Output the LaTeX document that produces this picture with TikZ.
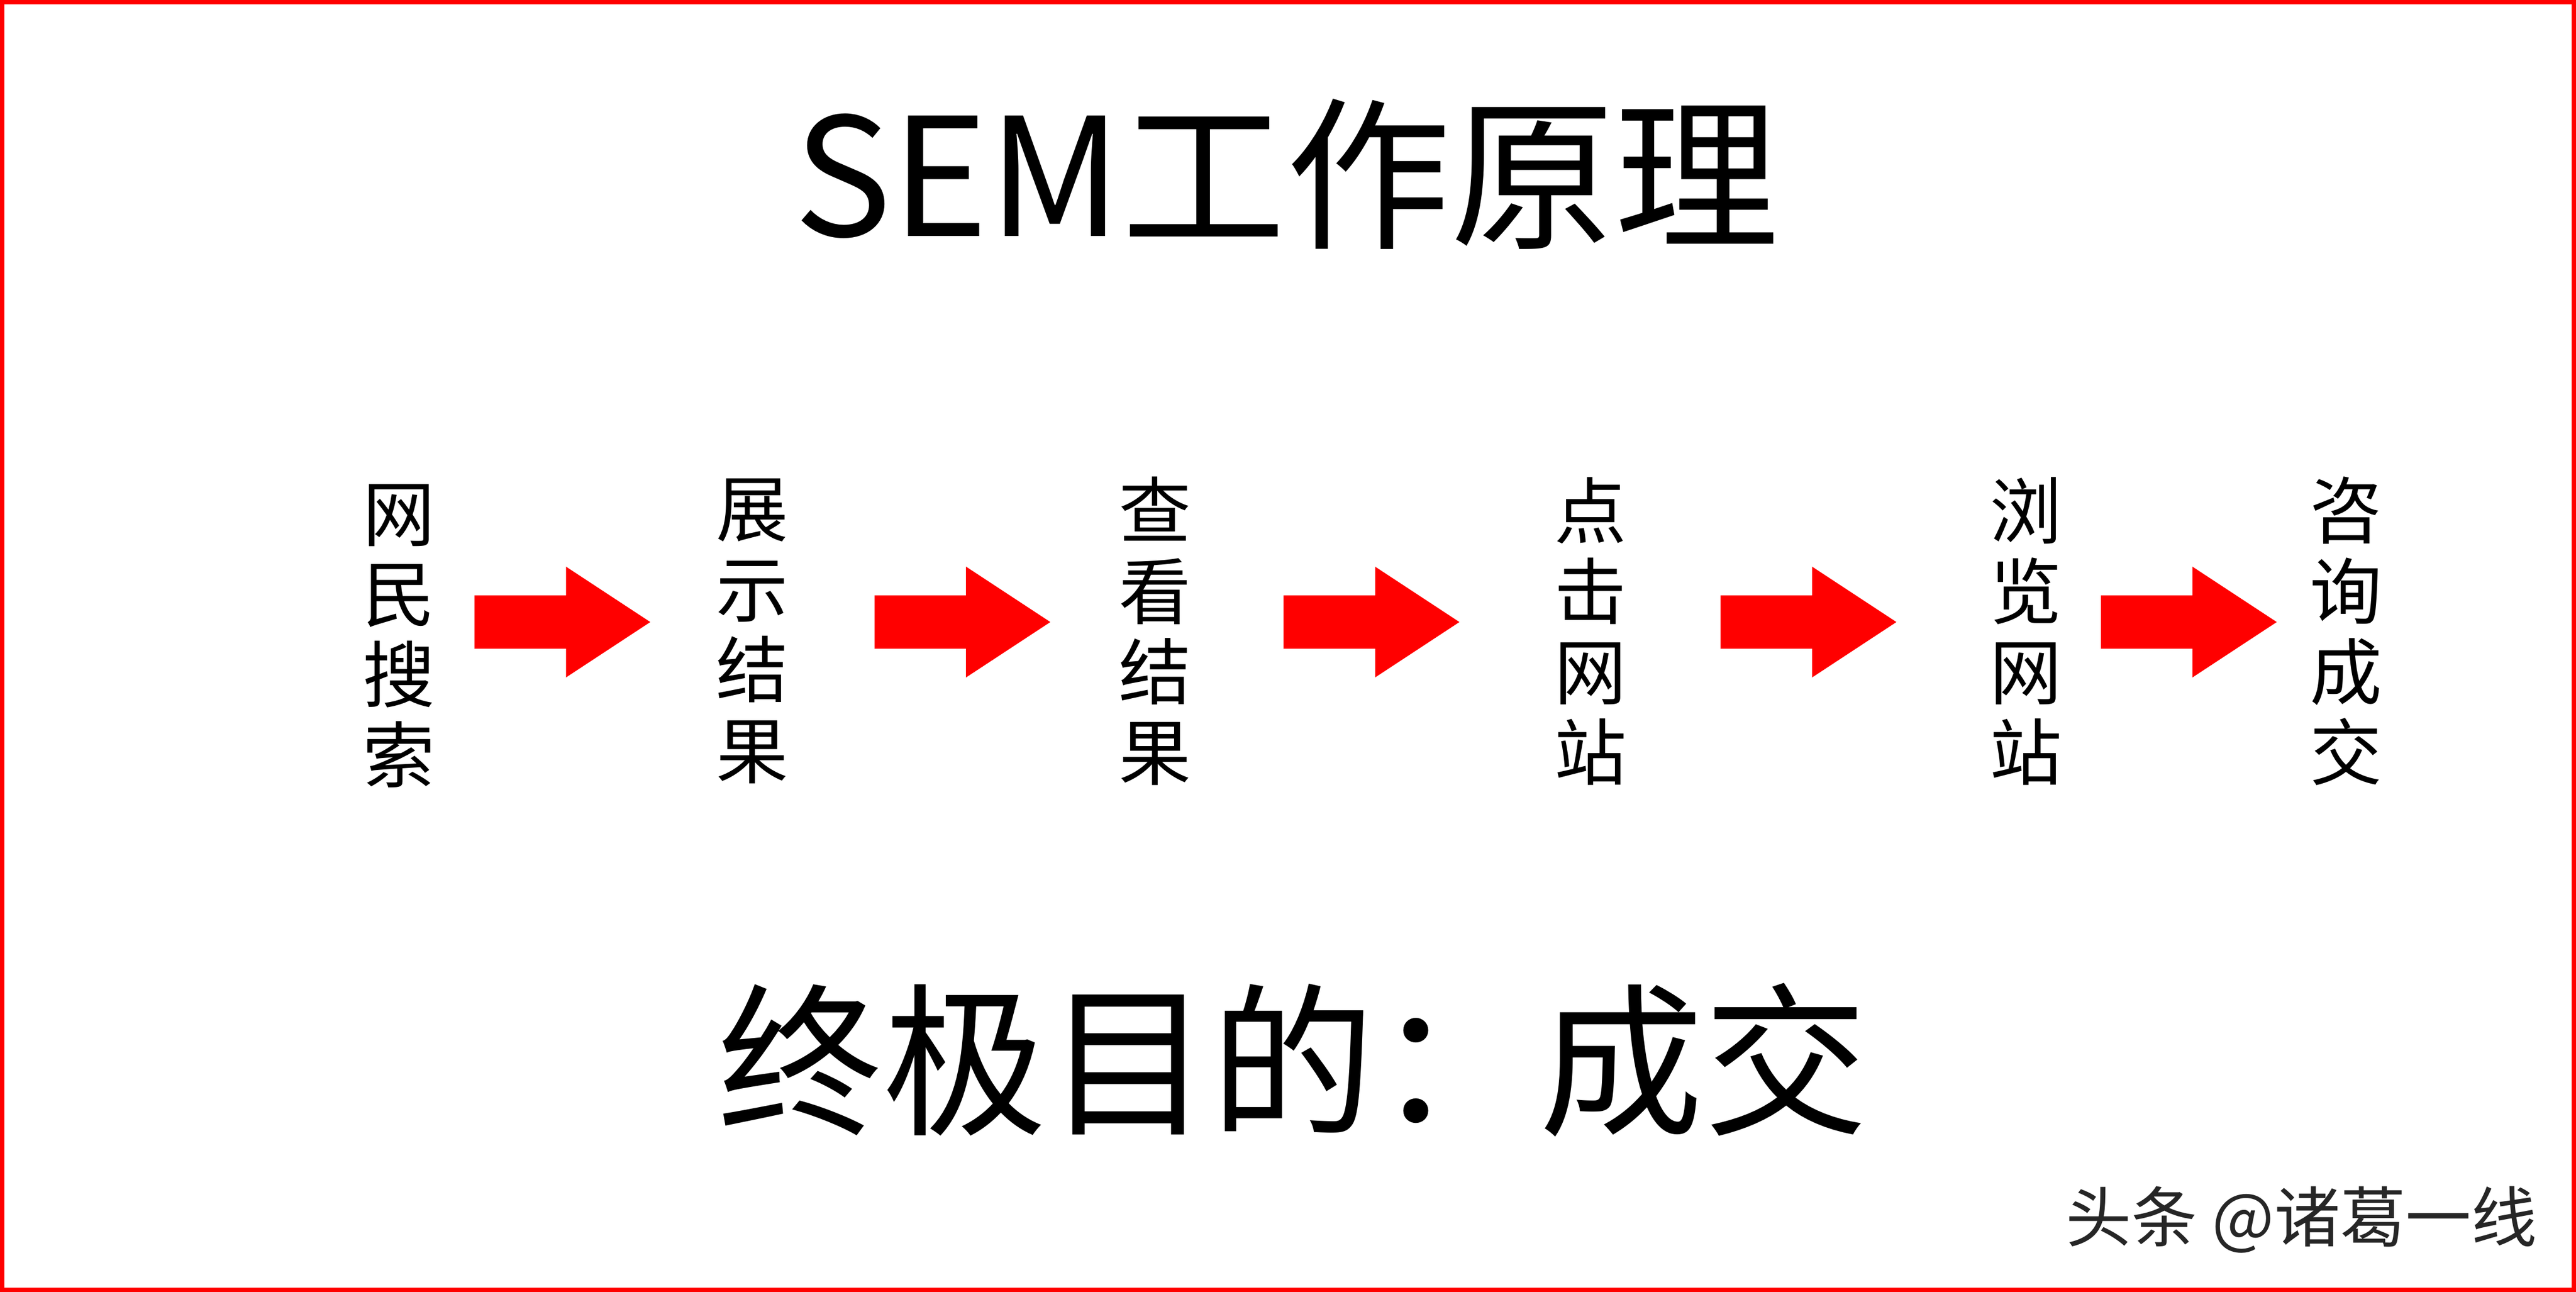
\documentclass[tikz,border=0pt]{standalone}
\usepackage{fontspec}
\setmainfont{Noto Sans CJK SC}
\usetikzlibrary{positioning}
\usetikzlibrary{shapes.arrows}

\begin{document}
\begin{tikzpicture}[x=1pt, y=-1pt,
                stagenode/.style={align=center, inner sep=0pt, font=\fontsize{44}{49}\selectfont},
                redarrownode/.style={single arrow, fill=red, inner sep=0pt, text height=16pt, text depth=16pt, minimum height=107pt, minimum width=67pt, single arrow head extend=17.5pt, single arrow head indent=0pt, single arrow tip angle=66.6},
                ]
                \useasboundingbox (0,0) rectangle (1568,786);
                \draw[red, line width=2.6pt] (1.3,1.3) rectangle (1566.7,784.7);

                \node[font=\fontsize{100}{100}\selectfont] (T) at (783,106) {SEM工作原理};

                \node[stagenode] (A) at (243,387) {网\\民\\搜\\索};
                \node[stagenode, on grid, right=215pt of A, yshift=3pt] (B) {展\\示\\结\\果};
                \node[stagenode, on grid, right=245pt of B] (C) {查\\看\\结\\果};
                \node[stagenode, on grid, right=265pt of C] (D) {点\\击\\网\\站};
                \node[stagenode, on grid, right=265pt of D] (E) {浏\\览\\网\\站};
                \node[stagenode, on grid, right=195pt of E] (F) {咨\\询\\成\\交};

                \node[redarrownode] (AB) at (330,378.5) {};
                \node[redarrownode] (BC) at (573.5,378.5) {};
                \node[redarrownode] (CD) at (822.5,378.5) {};
                \node[redarrownode] (DE) at (1088.5,378.5) {};
                \node[redarrownode] (EF) at (1320,378.5) {};

                \node[font=\fontsize{100}{100}\selectfont] (G) at (787,645) {终极目的：成交};

                \node[font=\fontsize{40}{40}\selectfont, text=black!85] (W) at (1401,742) {头条 @诸葛一线};
            \end{tikzpicture}
\end{document}
